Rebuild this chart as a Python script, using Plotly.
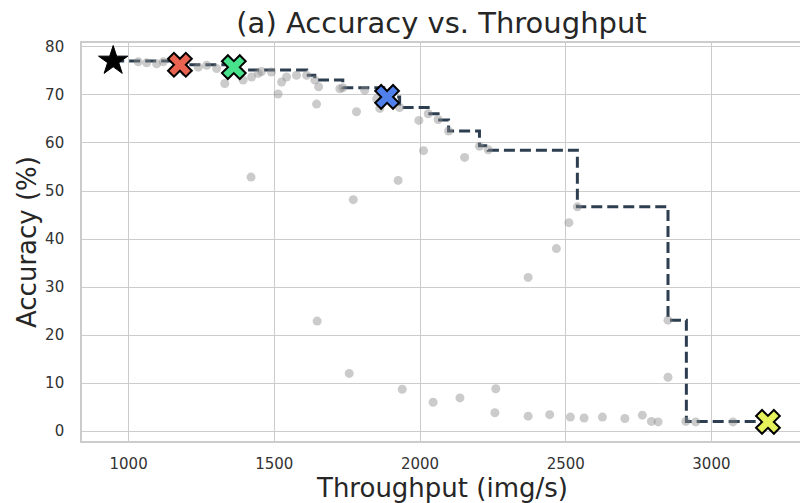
import plotly.graph_objects as go

# ---------------- data ----------------
# all evaluated configurations (grey cloud)
throughput = [
    1033, 1062, 1096, 1119, 1153, 1193, 1239, 1268, 1302, 1330,
    1375, 1393, 1422, 1445, 1456, 1490, 1513, 1525, 1542, 1576,
    1611, 1639, 1645, 1652, 1725, 1735, 1782, 1810, 1851, 1862,
    1930, 1996, 2028, 2062, 2098, 2204, 2234, 2012, 2153,
    1420, 1925, 1771, 2540, 2511, 2468, 2371, 1647, 2851, 1757,
    2851, 1939, 2045, 2137, 2260,
    2257, 2371, 2445, 2516, 2563, 2626, 2703, 2763, 2794, 2817,
    2912, 2946, 3074,
]
accuracy = [
    76.9, 76.7, 76.5, 76.9, 75.1, 74.8, 75.8, 76.2, 75.5, 72.4,
    75.2, 73.1, 73.75, 74.5, 74.9, 74.8, 70.2, 72.7, 73.75, 74.1,
    74.1, 73.1, 68.1, 71.7, 71.3, 71.5, 66.5, 71.0, 69.2, 67.2,
    67.4, 64.7, 66.1, 64.9, 62.5, 59.3, 58.6, 58.4, 57.0,
    52.9, 52.2, 48.2, 46.7, 43.4, 38.0, 32.0, 22.9, 23.1, 12.0,
    11.2, 8.7, 6.0, 6.9, 8.8,
    3.8, 3.1, 3.4, 2.9, 2.7, 2.9, 2.6, 3.3, 2.0, 1.9,
    2.0, 1.9, 1.9,
]

# Pareto front
front_throughput = [947, 1176, 1361, 1375, 1611, 1639, 1735, 1887, 1930,
                    2028, 2062, 2098, 2204, 2234, 2540, 2851, 2914, 3194]
front_accuracy = [77.1, 76.3, 75.8, 75.2, 74.1, 73.1, 71.5, 69.6, 67.4,
                  66.1, 64.8, 62.5, 59.4, 58.5, 46.7, 23.1, 2.0, 1.9]

# baseline model (star)
baseline_throughput = [947]
baseline_accuracy = [77.1]

# highlighted configurations (X markers)
selected_throughput = [1176, 1361, 1887, 3194]
selected_accuracy = [76.3, 75.8, 69.6, 1.9]

x_ticks = [1000, 1500, 2000, 2500, 3000]
title_text = "(a) Accuracy vs. Throughput"
x_label = "Throughput (img/s)"
y_label = "Accuracy (%)"

# ---------------- style ----------------
SELECTED_COLORS = ["#ea6350", "#48e28c", "#4f80ec", "#e6f25c"]
FONT = "DejaVu Sans"
GRID = "#cccccc"
W, H = 800, 503
ML, MR, MT, MB = 82, 0, 43, 62
PW, PH = W - ML - MR, H - MT - MB

fig = go.Figure()

fig.add_trace(go.Scatter(
    x=front_throughput, y=front_accuracy, mode="lines",
    line=dict(shape="hv", color="#2c3e50", width=3, dash="11px,5px"),
    showlegend=False, hoverinfo="skip",
))

fig.add_trace(go.Scatter(
    x=throughput, y=accuracy, mode="markers",
    marker=dict(size=9, color="rgba(140,140,140,0.45)", line=dict(width=0)),
    showlegend=False,
))

fig.add_trace(go.Scatter(
    x=baseline_throughput, y=baseline_accuracy, mode="markers",
    marker=dict(symbol="star", size=22, color="black",
                line=dict(color="black", width=1)),
    showlegend=False,
))

fig.add_trace(go.Scatter(
    x=selected_throughput, y=selected_accuracy, mode="markers",
    marker=dict(symbol="x", size=21, color=SELECTED_COLORS,
                line=dict(color="black", width=2)),
    showlegend=False,
))

fig.update_layout(
    width=W, height=H,
    margin=dict(l=ML, r=MR, t=MT, b=MB, autoexpand=False),
    paper_bgcolor="white", plot_bgcolor="white",
    font=dict(family=FONT, color="#333333"),
    title=dict(text=title_text, x=441.5 / W, xanchor="center",
               y=1 - 23 / H, yanchor="middle", yref="container",
               font=dict(family=FONT, size=29, color="#262626")),
    annotations=[
        dict(text=x_label, xref="paper", yref="paper",
             x=(441.5 - ML) / PW, y=(MT + PH - 488) / PH,
             xanchor="center", yanchor="middle", showarrow=False,
             font=dict(family=FONT, size=26, color="#262626")),
        dict(text=y_label, xref="paper", yref="paper",
             x=(27 - ML) / PW, y=0.5, textangle=-90,
             xanchor="center", yanchor="middle", showarrow=False,
             font=dict(family=FONT, size=26, color="#262626")),
    ],
)

fig.update_xaxes(
    range=[840, 3304], tickvals=x_ticks, automargin=False,
    showgrid=True, gridcolor=GRID, gridwidth=1.2,
    showline=True, linecolor=GRID, linewidth=1.6, mirror=True,
    zeroline=False, ticks="outside", ticklen=8, tickcolor="rgba(0,0,0,0)",
    tickfont=dict(family=FONT, size=15, color="#333333"),
)
fig.update_yaxes(
    range=[-2.08, 80.83], tick0=0, dtick=10, automargin=False,
    showgrid=True, gridcolor=GRID, gridwidth=1.2,
    showline=True, linecolor=GRID, linewidth=1.6,
    zeroline=False, ticks="outside", ticklen=13, tickcolor="rgba(0,0,0,0)",
    tickfont=dict(family=FONT, size=15, color="#333333"),
)

fig.write_html(
    "out.html",
    config={"displayModeBar": False},
    post_script="document.body.style.margin='0';document.body.style.overflow='hidden';",
)
